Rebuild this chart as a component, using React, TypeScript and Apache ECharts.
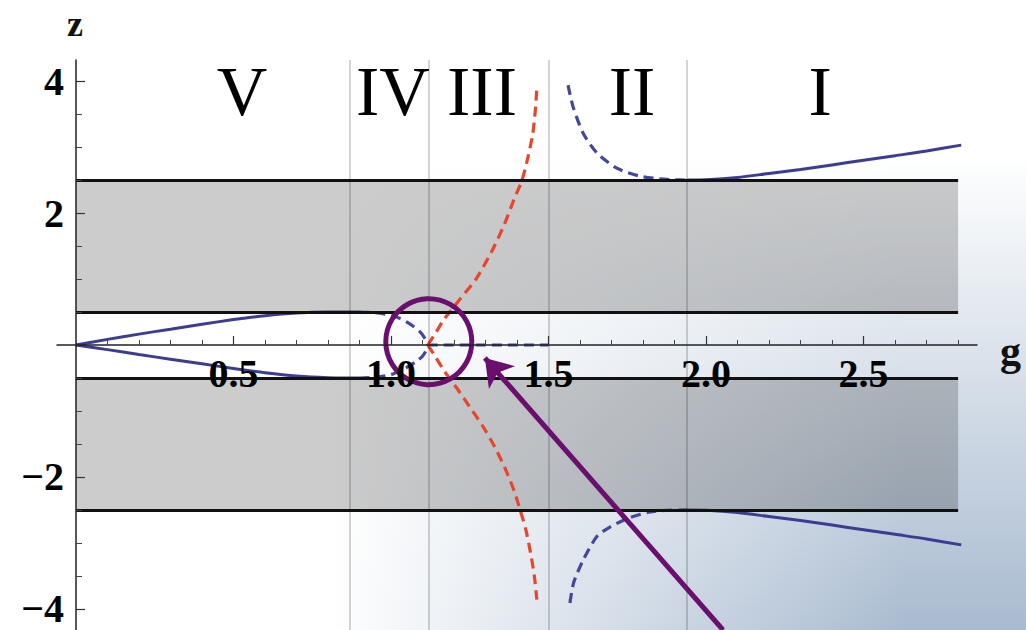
import React, { useEffect, useRef } from "react";
import * as echarts from "echarts";

// ---- data ----
const gRange = [-0.06, 2.86];
const zRange = [-4.32, 4.32];
const xLabelValues = [0.5, 1.0, 1.5, 2.0, 2.5];
const xMajorTicks = [0.5, 1.0, 1.5, 2.0, 2.5];
const xMinorTicks = [0.1, 0.2, 0.3, 0.4, 0.6, 0.7, 0.8, 0.9, 1.1, 1.2, 1.3, 1.4, 1.6, 1.7, 1.8, 1.9, 2.1, 2.2, 2.3, 2.4, 2.6, 2.7, 2.8];
const yLabelValues = [-4, -2, 2, 4];
const yMinorTicks = [-3.5, -3, -2.5, -1.5, -1, -0.5, 0.5, 1, 1.5, 2.5, 3, 3.5];

const bandExtentG = [0, 2.8];
const bands = [
  [0.5, 2.5],
  [-2.5, -0.5],
];
const levelLines = [2.5, 0.5, -0.5, -2.5];
const regionBoundaries = [0.87, 1.117, 1.502, 1.94];

const regionLabels = ["V", "IV", "III", "II", "I"];
const regionLabelG = [0.527, 1.006, 1.289, 1.765, 2.362];
const regionLabelZ = 3.85;

// blue branches (solid = stable, dashed = unstable)
const upLeftSolidG = [0, 0.1, 0.2, 0.3, 0.4, 0.5, 0.6, 0.7, 0.8, 0.9];
const upLeftSolidZ = [0, 0.085, 0.165, 0.24, 0.315, 0.385, 0.445, 0.485, 0.5, 0.5];
const upLeftDashG = [0.9, 0.95, 1.0, 1.03, 1.06, 1.09, 1.105, 1.117];
const upLeftDashZ = [0.5, 0.49, 0.45, 0.4, 0.32, 0.21, 0.12, 0];
const loLeftSolidG = [0, 0.1, 0.2, 0.3, 0.4, 0.5, 0.6, 0.7, 0.8, 0.9];
const loLeftSolidZ = [0, -0.07, -0.145, -0.215, -0.285, -0.355, -0.42, -0.47, -0.495, -0.5];
const loLeftDashG = [0.9, 0.95, 1.0, 1.05, 1.08, 1.1, 1.112, 1.117];
const loLeftDashZ = [-0.5, -0.49, -0.45, -0.34, -0.25, -0.17, -0.08, 0];
const midDashG = [1.117, 1.5];
const midDashZ = [0, 0];

const upRightDashG = [1.562, 1.578, 1.61, 1.654, 1.717, 1.79, 1.85, 1.895, 1.94];
const upRightDashZ = [3.94, 3.61, 3.21, 2.91, 2.68, 2.56, 2.52, 2.505, 2.5];
const loRightDashG = [1.568, 1.58, 1.61, 1.654, 1.695, 1.75, 1.822, 1.88, 1.94];
const loRightDashZ = [-3.91, -3.6, -3.26, -2.9, -2.76, -2.63, -2.53, -2.505, -2.5];
const upRightSolidG = [1.94, 2.0, 2.1, 2.2, 2.3, 2.4, 2.5, 2.6, 2.7, 2.81];
const upRightSolidZ = [2.5, 2.505, 2.54, 2.6, 2.66, 2.73, 2.8, 2.87, 2.94, 3.03];
const loRightSolidG = [1.94, 2.0, 2.1, 2.2, 2.3, 2.4, 2.5, 2.6, 2.7, 2.81];
const loRightSolidZ = [-2.5, -2.505, -2.54, -2.6, -2.66, -2.73, -2.8, -2.87, -2.94, -3.03];

// red branches
const redUpG = [1.117, 1.14, 1.17, 1.22, 1.27, 1.32, 1.36, 1.39, 1.416, 1.435, 1.45, 1.458, 1.463];
const redUpZ = [0, 0.17, 0.4, 0.7, 1.0, 1.42, 1.83, 2.2, 2.5, 2.85, 3.2, 3.55, 3.89];
const redLoG = [1.117, 1.14, 1.17, 1.21, 1.25, 1.29, 1.33, 1.365, 1.39, 1.41, 1.428, 1.443, 1.455, 1.463];
const redLoZ = [0, -0.17, -0.4, -0.66, -0.94, -1.22, -1.55, -1.9, -2.2, -2.5, -2.8, -3.15, -3.5, -3.86];

// annotation
const circleCenter = [1.12, 0.05];
const arrowFrom = [2.054, -4.32];
const arrowTo = [1.298, -0.197];

const BLUE = "#3b3c92";
const BLUE_DASH = "#45469e";
const RED = "#e8462c";
const PURPLE = "#6a0f6e";
const SERIF = "'Liberation Serif', 'Times New Roman', serif";

// pixel offsets that put the axes on the zero lines (grid 57..977 x 60..630)
const X_AXIS_OFFSET = -285;
const Y_AXIS_OFFSET = -19;
const W = 1026;
const H = 630;

const zip = (g: number[], z: number[]) => g.map((v, i) => [v, z[i]]);

function curve(g: number[], z: number[], color: string, dashed: boolean) {
  return {
    type: "line",
    data: zip(g, z),
    showSymbol: false,
    symbol: "none",
    smooth: 0.25,
    z: 4,
    lineStyle: {
      color,
      width: dashed ? 3.2 : 3,
      type: dashed ? [10, 6] : "solid",
    },
  };
}

export default function App() {
  const ref = useRef<HTMLDivElement>(null);
  useEffect(() => {
    if (!ref.current) return;
    const chart = echarts.init(ref.current, null, { renderer: "svg" });
    const option: any = {
      animation: false,
      backgroundColor: "#ffffff",
      grid: { left: 57, right: 49, top: 60, bottom: 0, containLabel: false, outerBoundsMode: "none" },
      xAxis: [
        {
          type: "value",
          min: gRange[0],
          max: gRange[1],
          position: "bottom",
          offset: X_AXIS_OFFSET,
          z: 10,
          axisLine: { show: true, onZero: false, lineStyle: { color: "#222", width: 1.5 } },
          axisTick: { show: true, inside: true, length: 9, customValues: xMajorTicks, lineStyle: { color: "#333", width: 1.2 } },
          axisLabel: {
            show: true,
            customValues: xLabelValues,
            formatter: (v: number) => v.toFixed(1),
            fontFamily: SERIF,
            fontWeight: "bold",
            fontSize: 40,
            color: "#000",
            margin: 8,
            hideOverlap: false,
          },
          splitLine: { show: false },
        },
        {
          type: "value",
          min: gRange[0],
          max: gRange[1],
          position: "bottom",
          offset: X_AXIS_OFFSET,
          z: 10,
          axisLine: { show: false, onZero: false },
          axisTick: { show: true, inside: true, length: 5, customValues: xMinorTicks, lineStyle: { color: "#444", width: 1 } },
          axisLabel: { show: false },
          splitLine: { show: false },
        },
      ],
      yAxis: [
        {
          type: "value",
          min: zRange[0],
          max: zRange[1],
          position: "left",
          offset: Y_AXIS_OFFSET,
          z: 10,
          axisLine: { show: true, onZero: false, lineStyle: { color: "#222", width: 1.5 } },
          axisTick: { show: true, inside: true, length: 9, customValues: yLabelValues, lineStyle: { color: "#333", width: 1.2 } },
          axisLabel: {
            show: true,
            customValues: yLabelValues,
            formatter: (v: number) => (v < 0 ? "\u2212" + Math.abs(v) : String(v)),
            fontFamily: SERIF,
            fontWeight: "bold",
            fontSize: 40,
            color: "#000",
            margin: 12,
          },
          splitLine: { show: false },
        },
        {
          type: "value",
          min: zRange[0],
          max: zRange[1],
          position: "left",
          offset: Y_AXIS_OFFSET,
          z: 10,
          axisLine: { show: false, onZero: false },
          axisTick: { show: true, inside: true, length: 6, customValues: yMinorTicks, lineStyle: { color: "#444", width: 1 } },
          axisLabel: { show: false },
          splitLine: { show: false },
        },
      ],
      graphic: [
        {
          type: "rect",
          z: -20,
          silent: true,
          shape: { x: 0, y: 0, width: W, height: H },
          style: {
            fill: new echarts.graphic.LinearGradient(
              330,
              0,
              905,
              0,
              [
                { offset: 0, color: "rgba(169,187,208,0)" },
                { offset: 1, color: "rgba(169,187,208,1)" },
              ],
              true
            ),
          },
        },
        {
          type: "rect",
          z: -19,
          silent: true,
          shape: { x: 0, y: 0, width: W, height: H },
          style: {
            fill: new echarts.graphic.LinearGradient(
              0,
              155,
              0,
              630,
              [
                { offset: 0, color: "rgba(255,255,255,1)" },
                { offset: 1, color: "rgba(255,255,255,0)" },
              ],
              true
            ),
          },
        },
        {
          type: "text",
          x: 75,
          y: 42,
          style: {
            text: "z",
            fontFamily: SERIF,
            fontWeight: "bold",
            fontSize: 36,
            fill: "#111",
            textAlign: "center",
            textVerticalAlign: "bottom",
          },
        },
        {
          type: "text",
          x: 1000,
          y: 372,
          style: {
            text: "g",
            fontFamily: SERIF,
            fontWeight: "bold",
            fontSize: 42,
            fill: "#111",
            textAlign: "left",
            textVerticalAlign: "bottom",
          },
        },
      ],
      series: [
        {
          type: "line",
          data: [],
          z: 1,
          markArea: {
            silent: true,
            itemStyle: { color: "rgba(0,0,0,0.2)" },
            data: bands.map(([a, b]) => [
              { xAxis: bandExtentG[0], yAxis: a },
              { xAxis: bandExtentG[1], yAxis: b },
            ]),
          },
        },
        {
          type: "line",
          data: [],
          z: 2,
          markLine: {
            silent: true,
            symbol: "none",
            label: { show: false },
            lineStyle: { color: "rgba(0,0,0,0.17)", width: 2, type: "solid" },
            data: regionBoundaries.map((g) => ({ xAxis: g })),
          },
        },
        {
          type: "line",
          data: [],
          z: 3,
          markLine: {
            silent: true,
            symbol: "none",
            label: { show: false },
            lineStyle: { color: "#111", width: 3, type: "solid" },
            data: levelLines.map((z) => [{ coord: [bandExtentG[0], z] }, { coord: [bandExtentG[1], z] }]),
          },
        },
        curve(upLeftSolidG, upLeftSolidZ, BLUE, false),
        curve(loLeftSolidG, loLeftSolidZ, BLUE, false),
        curve(upLeftDashG, upLeftDashZ, BLUE_DASH, true),
        curve(loLeftDashG, loLeftDashZ, BLUE_DASH, true),
        curve(midDashG, midDashZ, BLUE_DASH, true),
        curve(upRightDashG, upRightDashZ, BLUE_DASH, true),
        curve(loRightDashG, loRightDashZ, BLUE_DASH, true),
        curve(upRightSolidG, upRightSolidZ, BLUE, false),
        curve(loRightSolidG, loRightSolidZ, BLUE, false),
        curve(redUpG, redUpZ, RED, true),
        curve(redLoG, redLoZ, RED, true),
        {
          type: "scatter",
          data: regionLabelG.map((g, i) => ({ name: regionLabels[i], value: [g, regionLabelZ] })),
          symbolSize: 0,
          z: 5,
          itemStyle: { opacity: 1 },
          label: {
            show: true,
            position: "inside",
            formatter: (p: any) => p.name,
            fontFamily: SERIF,
            fontSize: 70,
            color: "#000",
          },
        },
        {
          type: "scatter",
          data: [circleCenter],
          symbol: "circle",
          symbolSize: 86,
          z: 6,
          itemStyle: { color: "rgba(0,0,0,0)", borderColor: PURPLE, borderWidth: 5, opacity: 1 },
        },
        {
          type: "lines",
          coordinateSystem: "cartesian2d",
          z: 6,
          symbol: ["none", "arrow"],
          symbolSize: 26,
          lineStyle: { color: PURPLE, width: 5, opacity: 1 },
          data: [{ coords: [arrowFrom, arrowTo] }],
        },
      ],
    };
    chart.setOption(option);
    return () => chart.dispose();
  }, []);
  return <div ref={ref} style={{ position: "fixed", left: 0, top: 0, width: W, height: H }} />;
}
